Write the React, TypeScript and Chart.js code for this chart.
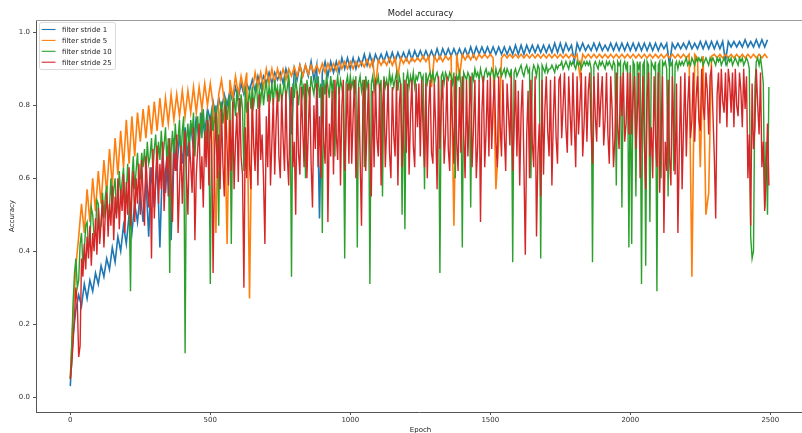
import React, { useEffect, useRef } from "react";
import { Chart, registerables } from "chart.js";

Chart.register(...registerables);

// ---------- data ----------
const COARSE_STEP = 10; // stride 1 and stride 5: one reading every 10 epochs
const FINE_STEP = 5; // stride 10 and stride 25: one reading every 5 epochs
const SERIES_LABELS = ["filter stride 1", "filter stride 5", "filter stride 10", "filter stride 25"];
const X_TICKS = [0, 500, 1000, 1500, 2000, 2500];
const Y_TICKS = [0.0, 0.2, 0.4, 0.6, 0.8, 1.0];
const TITLE = "Model accuracy";
const X_LABEL = "Epoch";
const Y_LABEL = "Accuracy";

// accuracy in percent
const STRIDE1_PCT = [
  3, 17, 24, 28, 25, 31, 27, 32, 29, 34, 31, 36, 33, 38, 35, 41, 37, 44, 40, 47, 42, 50, 45, 53, 48,
  56, 48, 60, 44, 63, 52, 65, 41, 67, 56, 69, 43, 71, 62, 72, 64, 74, 66, 75, 68, 77, 70, 78, 72, 79,
  76, 81, 77, 82, 79, 83, 80, 84, 81, 85, 82, 86, 83, 86, 84, 87, 84, 88, 85, 88, 86, 89, 86, 89, 87,
  89, 86, 90, 87, 72, 90, 87, 91, 88, 91, 88, 92, 87, 91, 49, 89, 92, 88, 92, 89, 92, 89, 93, 90, 93,
  90, 93, 90, 93, 91, 94, 91, 94, 91, 94, 92, 94, 92, 94.5, 92, 94.5, 92, 94.5, 92.5, 94.5, 92.5, 95, 92.5, 95, 93,
  95, 93, 95, 93, 95, 93, 95.5, 93, 95.5, 93.5, 95.5, 93.5, 95.5, 93.5, 95.5, 93.5, 95.5, 93.5, 96, 93.5, 96, 94, 96, 94, 96,
  94, 96, 94, 96, 94, 96, 94, 96, 94, 96.5, 94, 96.5, 94, 96.5, 94.5, 96.5, 94.5, 96.5, 94.5, 96.5, 94.5, 96.5, 94.5, 97, 94.5,
  97, 94.5, 97, 95, 96.5, 92, 97, 95, 97, 95, 96.5, 95, 97, 95, 97, 95, 96.5, 95, 97, 95, 97, 95, 97, 95, 97,
  95, 97, 95, 97, 95, 97, 95, 97, 95, 97, 95, 97, 95.5, 97, 91, 97, 95.5, 97, 95.5, 97, 95.5, 97.5, 95.5, 97, 95.5,
  97.5, 95.5, 97.5, 95.5, 97.5, 95.5, 97.5, 95.5, 97.5, 92, 97.5, 96, 97.5, 96, 97.5, 96, 98, 96, 97.5, 96, 98, 96, 98, 96, 98,
];

const STRIDE5_PCT = [
  5, 22, 36, 44, 53, 45, 57, 48, 60, 51, 62, 53, 65, 56, 68, 58, 71, 61, 73, 63, 76, 64, 77, 66, 78,
  70, 79, 71, 80, 72, 81, 73, 82, 74, 82, 75, 83, 76, 83, 77, 84, 77, 84, 78, 85, 78, 85, 79, 86, 80,
  86, 80, 45, 83, 87, 81, 42, 87, 82, 88, 83, 88, 84, 89, 27, 84, 89, 85, 89, 85, 90, 86, 90, 86, 90,
  87, 90, 87, 90, 88, 90.5, 88, 91, 88, 91, 88.5, 91, 89, 91, 89, 91.5, 89, 91.5, 89.5, 91.5, 89.5, 92, 90, 92, 90,
  92, 90, 92, 90.5, 92, 90.5, 92.5, 90.5, 92.5, 85, 92.5, 91, 92.5, 91, 93, 91, 93, 88, 93, 91.5, 93, 91.5, 93, 92, 93,
  92, 93.5, 92, 93.5, 85, 93.5, 92, 93.5, 92, 93.5, 92.5, 93.5, 47, 94, 88, 94, 92.5, 94, 92.5, 94, 92.5, 94, 93, 94, 93,
  94, 93, 57, 70, 93, 94, 93, 94, 93, 94, 93, 94, 93, 94, 93, 94, 93, 94, 93, 94, 93, 94, 93, 94, 93,
  94, 93, 94, 93, 94, 93, 94, 88, 94, 93, 94, 93, 94, 93, 94, 93, 94, 93, 94, 93, 94, 93, 94, 93, 94,
  93, 94, 93, 94, 93, 94, 93, 94, 93, 94, 93, 94, 93, 94, 93, 94, 93, 94, 93, 94, 93, 94, 33, 94, 93,
  63, 93.5, 50, 56, 93.5, 94, 93, 94, 93, 94, 93, 94, 93, 94, 93, 94, 93, 94, 93, 94, 93, 94, 93, 94, 93,
];

const STRIDE10_PCT = [
  5, 14, 26, 34, 38, 30, 32, 42, 45, 36, 40, 47, 48, 41, 42, 52, 50, 44, 45, 54, 53, 46, 47, 56, 49,
  55, 58, 48, 52, 60, 51, 57, 60, 50, 54, 62, 55, 59, 63, 53, 56, 64, 55, 29, 60, 66, 57, 62, 67, 59,
  60, 67, 63, 68, 61, 70, 64, 66, 71, 62, 68, 72, 63, 70, 65, 73, 66, 69, 74, 64, 71, 34, 67, 73, 66,
  75, 68, 71, 76, 65, 73, 77, 12, 70, 75, 67, 76, 72, 78, 66, 74, 77, 69, 78, 71, 79, 73, 68, 78, 72,
  31, 79, 73, 76, 80, 74, 47, 78, 81, 75, 79, 82, 76, 80, 83, 42, 78, 82, 77, 84, 80, 76, 83, 79, 62,
  85, 78, 81, 84, 79, 85, 80, 83, 86, 79, 84, 81, 86, 80, 84, 87, 81, 85, 82, 86, 80, 87, 83, 85, 81,
  86, 81, 84, 87, 82, 85, 88, 83, 33, 86, 82, 87, 84, 80, 85, 88, 83, 86, 60, 87, 84, 82, 88, 85, 83,
  87, 84, 88, 82, 86, 45, 87, 83, 88, 85, 82, 88, 84, 87, 66, 85, 88, 83, 87, 85, 81, 38, 86, 88, 84,
  88, 85, 87, 83, 88, 41, 86, 88, 84, 87, 63, 88, 85, 87, 31, 86, 88, 84, 87, 86, 88, 84, 87, 55, 88,
  85, 87, 84, 89, 86, 88, 85, 87, 89, 84, 88, 86, 50, 89, 46, 87, 89, 85, 88, 86, 89, 85, 88, 87, 89,
  89, 87, 88, 57, 89, 86, 88, 89, 87, 89, 86, 88, 89, 87, 34, 88, 89, 86, 89, 88, 87, 89, 88, 86, 89,
  60, 88, 87, 89, 86, 41, 89, 88, 87, 89, 88, 52, 89, 87, 90, 88, 89, 87, 90, 88, 86, 89, 90, 88, 89,
  88, 90, 89, 87, 90, 88, 89, 90, 88, 89, 90, 88, 90, 89, 88, 90, 37, 89, 90, 88, 89, 90, 91, 89, 88,
  90, 91, 89, 90, 60, 89, 91, 90, 88, 91, 90, 38, 91, 90, 89, 91, 89, 90, 90, 91, 90, 89, 91, 90, 91,
  91, 92, 90, 91, 92, 91, 90, 92, 91, 92, 91, 90, 92, 91, 92, 90, 91, 92, 91, 92, 91, 92, 90, 37, 91,
  92, 91, 90, 92, 91, 92, 91, 90, 92, 91, 92, 91, 90, 92, 91, 58, 92, 91, 92, 52, 91, 92, 90, 92, 41,
  91, 42, 92, 91, 55, 92, 90, 92, 31, 91, 92, 36, 92, 91, 48, 92, 91, 90, 92, 29, 91, 92, 60, 92, 91,
  92, 90, 55, 92, 91, 92, 62, 91, 92, 90, 92, 91, 92, 91, 92, 93, 91, 92, 91, 93, 92, 91, 93, 92, 93,
  92, 93, 91, 92, 93, 92, 91, 93, 92, 93, 92, 91, 93, 92, 93, 91, 92, 93, 92, 91, 93, 92, 93, 91, 92,
  93, 92, 91, 93, 92, 93, 91, 92, 93, 92, 90, 44, 38, 40, 85, 92, 93, 91, 93, 90, 86, 52, 70, 50, 85,
];

const STRIDE25_PCT = [
  5, 9, 15, 22, 30, 26, 11, 14, 38, 33, 42, 35, 44, 38, 47, 36, 45, 40, 49, 39, 52, 42, 48, 54, 41,
  50, 56, 44, 53, 47, 58, 43, 55, 49, 60, 46, 57, 51, 61, 45, 59, 50, 63, 47, 57, 62, 48, 60, 53, 64,
  50, 65, 55, 47, 66, 58, 52, 63, 38, 68, 49, 60, 69, 53, 64, 57, 70, 51, 62, 66, 55, 71, 59, 48, 67,
  62, 72, 45, 58, 69, 53, 65, 73, 60, 50, 70, 64, 56, 74, 43, 61, 68, 75, 57, 66, 52, 73, 63, 76, 58,
  77, 70, 34, 66, 78, 60, 72, 57, 79, 64, 55, 80, 68, 58, 76, 62, 81, 57, 70, 78, 59, 82, 66, 61, 30,
  74, 60, 81, 64, 57, 82, 69, 62, 79, 58, 83, 65, 72, 60, 42, 77, 63, 83, 58, 70, 82, 61, 75, 84, 66,
  60, 83, 71, 62, 84, 66, 58, 79, 85, 63, 70, 50, 84, 67, 61, 85, 74, 63, 86, 60, 73, 85, 64, 52, 80,
  68, 86, 63, 77, 60, 85, 70, 64, 86, 48, 75, 66, 84, 61, 87, 72, 65, 85, 58, 80, 87, 62, 74, 86, 64,
  86, 64, 77, 87, 60, 72, 85, 66, 47, 81, 87, 62, 75, 86, 68, 55, 84, 63, 87, 71, 66, 86, 58, 79, 87,
  63, 74, 86, 67, 60, 85, 72, 66, 87, 58, 80, 86, 63, 75, 87, 67, 86, 61, 77, 87, 69, 63, 86, 74, 86,
  66, 87, 73, 63, 86, 60, 79, 87, 67, 64, 86, 74, 57, 88, 68, 81, 87, 64, 72, 88, 68, 62, 87, 75, 64,
  88, 70, 62, 85, 67, 88, 72, 60, 87, 66, 79, 88, 63, 74, 87, 60, 69, 87, 48, 78, 88, 63, 73, 87, 66,
  88, 68, 80, 87, 70, 63, 88, 75, 66, 87, 72, 62, 86, 78, 69, 88, 62, 74, 87, 66, 84, 58, 78, 87, 64,
  39, 72, 84, 60, 87, 70, 63, 88, 44, 66, 75, 55, 87, 61, 79, 88, 73, 66, 87, 58, 76, 88, 71, 64, 87,
  88, 71, 80, 89, 74, 67, 88, 78, 69, 89, 75, 63, 88, 72, 80, 89, 66, 75, 88, 70, 84, 89, 73, 64, 88,
  77, 70, 89, 74, 82, 88, 69, 76, 89, 72, 64, 88, 79, 63, 71, 89, 74, 68, 88, 77, 89, 70, 75, 89, 72,
  89, 72, 82, 88, 68, 77, 89, 60, 74, 88, 70, 57, 82, 89, 66, 74, 60, 88, 71, 63, 89, 56, 72, 88, 45,
  70, 62, 87, 66, 58, 88, 73, 61, 86, 45, 68, 88, 57, 74, 89, 66, 80, 88, 71, 76, 89, 70, 82, 88, 76,
  73, 90, 80, 76, 89, 84, 72, 88, 90, 78, 66, 49, 83, 89, 75, 90, 81, 78, 89, 74, 90, 86, 78, 89, 74,
  90, 80, 77, 89, 84, 74, 90, 79, 88, 60, 72, 47, 86, 68, 74, 90, 80, 72, 89, 63, 70, 51, 60, 75, 58,
];

const SERIES_PCT = [STRIDE1_PCT, STRIDE5_PCT, STRIDE10_PCT, STRIDE25_PCT];
const SERIES_STEP = [COARSE_STEP, COARSE_STEP, FINE_STEP, FINE_STEP];
const COLORS = ["#1f77b4", "#ff7f0e", "#2ca02c", "#d62728"];
const LINE_WIDTHS = [1.6, 1.6, 1.4, 1.4];

const FONT = "'DejaVu Sans', 'Liberation Sans', sans-serif";

const decorPlugin = {
  id: "decor",
  afterDraw(chart: any) {
    const { ctx, chartArea: a } = chart;
    ctx.save();
    // top spine
    ctx.strokeStyle = "#9a9a9a";
    ctx.lineWidth = 1;
    ctx.beginPath();
    ctx.moveTo(a.left, a.top + 0.5);
    ctx.lineTo(a.right, a.top + 0.5);
    ctx.stroke();

    // title
    ctx.fillStyle = "#222";
    ctx.font = `8.4px ${FONT}`;
    ctx.textAlign = "center";
    ctx.textBaseline = "alphabetic";
    ctx.fillText(TITLE, 420.5, 16.3);

    // x label
    ctx.font = `7px ${FONT}`;
    ctx.fillText(X_LABEL, 420.5, 431.5);

    // y label
    ctx.save();
    ctx.translate(14, (a.top + a.bottom) / 2);
    ctx.rotate(-Math.PI / 2);
    ctx.textAlign = "center";
    ctx.fillText(Y_LABEL, 0, 0);
    ctx.restore();

    // legend
    const bx = 39.5, by = 22.5, bw = 76, bh = 47, r = 2;
    ctx.beginPath();
    ctx.moveTo(bx + r, by);
    ctx.lineTo(bx + bw - r, by);
    ctx.quadraticCurveTo(bx + bw, by, bx + bw, by + r);
    ctx.lineTo(bx + bw, by + bh - r);
    ctx.quadraticCurveTo(bx + bw, by + bh, bx + bw - r, by + bh);
    ctx.lineTo(bx + r, by + bh);
    ctx.quadraticCurveTo(bx, by + bh, bx, by + bh - r);
    ctx.lineTo(bx, by + r);
    ctx.quadraticCurveTo(bx, by, bx + r, by);
    ctx.closePath();
    ctx.fillStyle = "rgba(255,255,255,0.8)";
    ctx.fill();
    ctx.strokeStyle = "#d0d0d0";
    ctx.lineWidth = 0.8;
    ctx.stroke();

    ctx.font = `7px ${FONT}`;
    ctx.textAlign = "left";
    ctx.textBaseline = "middle";
    chart.data.datasets.forEach((ds: any, i: number) => {
      const y = 29.5 + i * 10.9;
      ctx.strokeStyle = ds.borderColor;
      ctx.lineWidth = 1.1;
      ctx.beginPath();
      ctx.moveTo(41.7, y);
      ctx.lineTo(55.5, y);
      ctx.stroke();
      ctx.fillStyle = "#222";
      ctx.fillText(ds.label, 62, y + 0.5);
    });
    ctx.restore();
  },
};

export default function App() {
  const ref = useRef<HTMLCanvasElement | null>(null);

  useEffect(() => {
    if (!ref.current) return;
    const datasets = SERIES_PCT.map((vals, si) => ({
      label: SERIES_LABELS[si],
      data: vals.map((v, i) => ({ x: i * SERIES_STEP[si], y: v / 100 })),
      borderColor: COLORS[si],
      backgroundColor: COLORS[si],
      borderWidth: LINE_WIDTHS[si],
      pointRadius: 0,
      tension: 0,
      fill: false,
      order: SERIES_PCT.length - 1 - si,
    }));

    const tickFont = { family: FONT, size: 7 };
    const chart = new Chart(ref.current, {
      type: "line",
      data: { datasets },
      options: {
        animation: false,
        responsive: false,
        devicePixelRatio: 1,
        parsing: false as any,
        normalized: true,
        layout: { padding: { top: 20, left: 0, right: 0, bottom: 0 } },
        plugins: {
          legend: { display: false },
          title: { display: false },
          tooltip: { enabled: false },
        },
        scales: {
          x: {
            type: "linear",
            min: -122.5,
            max: 2613.2,
            afterBuildTicks: (s: any) => {
              s.ticks = X_TICKS.map((v) => ({ value: v }));
            },
            afterFit: (s: any) => {
              s.height = 21;
            },
            grid: {
              display: true,
              drawOnChartArea: false,
              drawTicks: true,
              tickLength: 3,
              color: "#555",
              lineWidth: 1,
            },
            border: { display: true, color: "#555", width: 1 },
            ticks: {
              font: tickFont,
              color: "#333",
              padding: 1,
              maxRotation: 0,
              autoSkip: false,
              callback: (v: any) => String(v),
            },
          },
          y: {
            type: "linear",
            min: -0.041,
            max: 1.034,
            afterBuildTicks: (s: any) => {
              s.ticks = Y_TICKS.map((v) => ({ value: v }));
            },
            afterFit: (s: any) => {
              s.width = 36;
            },
            grid: {
              display: true,
              drawOnChartArea: false,
              drawTicks: true,
              tickLength: 3,
              color: "#555",
              lineWidth: 1,
            },
            border: { display: true, color: "#555", width: 1 },
            ticks: {
              font: tickFont,
              color: "#333",
              padding: 3,
              autoSkip: false,
              callback: (v: any) => Number(v).toFixed(1),
            },
          },
        },
      },
      plugins: [decorPlugin],
    });
    return () => chart.destroy();
  }, []);

  return (
    <div
      style={{
        position: "fixed",
        left: 0,
        top: 0,
        width: 802,
        height: 433,
        background: "#fff",
        overflow: "hidden",
      }}
    >
      <canvas ref={ref} width={802} height={433} style={{ display: "block" }} />
    </div>
  );
}
